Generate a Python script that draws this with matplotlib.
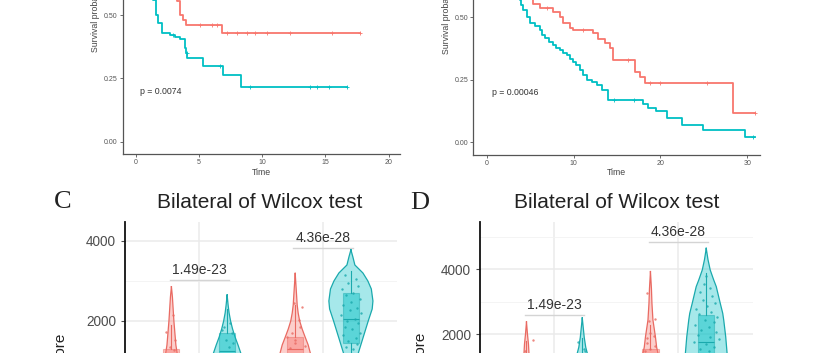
import numpy as np
import matplotlib
matplotlib.use("Agg")
import matplotlib.pyplot as plt

plt.rcParams["font.family"] = ["Liberation Sans", "DejaVu Sans"]

RED = "#F8766D"
TEAL = "#00BFC4"
RED_EDGE = "#E96A62"
TEAL_EDGE = "#1AA9AD"

# ---- Kaplan-Meier, panel A (upper left) ----
km_a_red_t = [0, 0.8, 1.5, 2.2, 2.8, 3.24, 3.5, 3.75, 3.98, 6.8, 17.76]
km_a_red_s = [1.0, 0.93, 0.82, 0.72, 0.62, 0.555, 0.50, 0.48, 0.461, 0.430, 0.430]
km_a_red_cens = [5.1, 6.0, 6.4, 7.2, 8.0, 8.8, 9.45, 10.4, 12.2, 15.5, 17.76]
km_a_teal_t = [0, 0.5, 0.9, 1.1, 1.34, 1.6, 1.79, 2.06, 2.72, 3.1, 3.51, 3.9, 4.0, 4.09,
               5.36, 6.94, 8.34, 16.7]
km_a_teal_s = [1.0, 0.9, 0.8, 0.68, 0.56, 0.50, 0.47, 0.428, 0.42, 0.415, 0.404, 0.37, 0.351,
               0.329, 0.30, 0.263, 0.217, 0.217]
km_a_teal_cens = [2.98, 4.04, 6.67, 9.05, 13.8, 14.3, 15.3, 16.7]
km_a_pval = "p = 0.0074"

# ---- Kaplan-Meier, panel B (upper right) ----
km_b_red_t = [0, 1, 2, 3, 4, 5, 5.37, 6.14, 7.67, 8.43, 8.82, 9.59, 9.97, 12.27, 12.85,
              13.62, 14.19, 14.57, 17.07, 17.64, 18.22, 28.39, 30.88]
km_b_red_s = [1.0, 0.97, 0.92, 0.85, 0.75, 0.62, 0.555, 0.536, 0.52, 0.502, 0.476, 0.456,
              0.449, 0.436, 0.415, 0.396, 0.376, 0.329, 0.283, 0.262, 0.236, 0.116, 0.116]
km_b_red_cens = [6.9, 11.1, 16.3, 18.8, 19.95, 25.3, 30.88]
km_b_teal_t = [0, 1, 2, 3, 3.5, 3.83, 4.0, 4.22, 4.6, 4.99, 5.5, 6.14, 6.4, 6.72, 7.2, 7.67,
               8.0, 8.43, 8.8, 9.2, 9.6, 9.97, 10.3, 10.74, 11.1, 11.5, 12.1, 12.66, 13.24,
               14.0, 18.0, 18.6, 19.5, 20.7, 22.44, 24.93, 29.73, 30.88]
km_b_teal_s = [1.0, 0.98, 0.93, 0.82, 0.68, 0.569, 0.55, 0.529, 0.50, 0.476, 0.465, 0.449,
               0.43, 0.416, 0.40, 0.389, 0.378, 0.369, 0.358, 0.349, 0.335, 0.323, 0.31,
               0.289, 0.27, 0.249, 0.24, 0.229, 0.209, 0.169, 0.155, 0.136, 0.125, 0.096,
               0.069, 0.049, 0.022, 0.022]
km_b_teal_cens = [14.6, 16.9, 30.7]
km_b_pval = "p = 0.00046"

# ---- violin panels: value levels and half widths (category units) ----
c_red1_y = [2858, 2600, 2200, 2000, 1700, 1400, 1200, 1000, 800, 600, 400, 200]
c_red1_w = [0, .008, .016, .020, .028, .036, .046, .064, .096, .12, .096, .04]
c_teal1_y = [2650, 2400, 2200, 2000, 1800, 1600, 1400, 1200, 1000, 800, 600, 400]
c_teal1_w = [0, .008, .016, .028, .044, .064, .088, .11, .118, .113, .08, .032]
c_red2_y = [3190, 2800, 2400, 2200, 2000, 1800, 1600, 1400, 1200, 1000, 800, 600]
c_red2_w = [0, .008, .016, .024, .036, .056, .08, .105, .122, .137, .12, .064]
c_teal2_y = [3780, 3600, 3400, 3200, 3000, 2800, 2500, 2300, 2000, 1800, 1600, 1400, 1200,
             1000, 800]
c_teal2_w = [0, .016, .032, .097, .137, .165, .178, .172, .14, .12, .10, .08, .06, .048, .024]

d_red1_y = [2380, 2000, 1700, 1425, 1200, 1000, 800, 600, 400]
d_red1_w = [0, .008, .016, .02, .032, .056, .08, .08, .04]
d_teal1_y = [2505, 2200, 1900, 1600, 1425, 1200, 1000, 800, 600, 400]
d_teal1_w = [0, .008, .016, .028, .04, .052, .072, .089, .072, .032]
d_red2_y = [3930, 3400, 2954, 2440, 1926, 1600, 1425, 1200, 1000, 800, 600]
d_red2_w = [0, .008, .012, .02, .04, .05, .06, .075, .089, .089, .048]
d_teal2_y = [4645, 4300, 3980, 3674, 3466, 2954, 2646, 2440, 1926, 1425, 1200, 1000, 800, 600]
d_teal2_w = [0, .014, .032, .06, .081, .113, .133, .141, .157, .168, .165, .15, .12, .07]

# jittered observations: values and horizontal jitter (category units)
c_red1_pts = [2150, 1733, 1525, 1275, 1350]
c_red1_jit = [0.01, -0.04, 0.025, 0.02, -0.015]
c_teal1_pts = [1942, 1858, 1692, 1525, 1358, 1450, 1780]
c_teal1_jit = [0.027, -0.027, 0.04, -0.013, 0.013, 0.05, -0.045]
c_red2_pts = [2442, 2358, 2025, 1858, 1692, 1525, 1442, 1317, 1380, 1600]
c_red2_jit = [-0.013, 0.054, 0.027, 0.04, -0.027, 0.0, 0.0, -0.04, 0.08, -0.07]
c_teal2_pts = [3160, 3040, 2960, 2870, 2790, 2710, 2640, 2545, 2470, 2410, 2320, 2275,
               2190, 2140, 2050, 1990, 1940, 1850, 1800, 1710, 1660, 1570, 1510, 1430,
               1340, 1290]
c_teal2_jit = [-0.05, 0.04, -0.02, 0.06, -0.07, 0.02, -0.04, 0.07, 0.0, -0.06, 0.05, -0.01,
               0.08, -0.08, 0.03, -0.03, 0.06, -0.05, 0.01, 0.07, -0.06, 0.04, -0.02, 0.05,
               -0.04, 0.02]
d_red1_pts = [1825, 1500]
d_red1_jit = [0.05, -0.01]
d_teal1_pts = [1772, 1550, 1480]
d_teal1_jit = [-0.035, 0.01, 0.02]
d_red2_pts = [3262, 2460, 2400, 2030, 1950, 1880, 1720, 1650, 1560, 1480]
d_red2_jit = [-0.03, 0.035, -0.01, 0.0, 0.03, -0.03, -0.03, 0.04, 0.0, -0.04]
d_teal2_pts = [3780, 3560, 3420, 3300, 3180, 3050, 2950, 2860, 2780, 2690, 2610, 2530,
               2450, 2380, 2290, 2210, 2140, 2060, 1990, 1910, 1840, 1770, 1700, 1620,
               1560, 1490]
d_teal2_jit = [0.0, -0.02, 0.03, -0.05, 0.05, -0.03, 0.07, 0.01, -0.08, 0.04, -0.06, 0.09,
               -0.01, 0.06, -0.09, 0.02, -0.04, 0.08, -0.07, 0.03, 0.10, -0.10, 0.0, 0.06,
               -0.05, 0.02]

# boxplot summaries: (q1, median, q3, whisker low, whisker high)
c_boxes = [(850, 1100, 1300, 300, 1900), (900, 1250, 1700, 350, 2300),
           (1000, 1300, 1600, 450, 2400), (1450, 2050, 2700, 600, 3250)]
d_boxes = [(700, 950, 1200, 250, 1800), (750, 1050, 1300, 300, 1900),
           (800, 1100, 1550, 300, 2300), (1100, 1750, 2600, 400, 3900)]

pvals_c = ["1.49e-23", "4.36e-28"]
pvals_c_y = [3025, 3833]
pvals_d = ["1.49e-23", "4.36e-28"]
pvals_d_y = [2597, 4850]

fig = plt.figure(figsize=(8.3, 3.53), dpi=100)


def draw_km(ax, curves, xmax, xticks, pval):
    for t, s, cens, col in curves:
        ax.step(t, s, where="post", color=col, lw=1.3)
        idx = np.searchsorted(t, cens, side="right") - 1
        ax.plot(cens, np.array(s)[idx], "+", color=col, ms=3, mew=0.6)
    ax.text(pval[0], 0.2, pval[1], fontsize=6.3, va="center", color="#333333")
    ax.set_xticks(xticks)
    ax.set_yticks([0, 0.25, 0.5, 0.75, 1.0])
    ax.set_yticklabels(["0.00", "0.25", "0.50", "0.75", "1.00"])
    ax.set_xlim(-0.05 * xmax, xmax * 1.05)
    ax.set_ylim(-0.05, 1.05)
    for side in ["top", "right"]:
        ax.spines[side].set_visible(False)
    for side in ["left", "bottom"]:
        ax.spines[side].set_color("#555555")
        ax.spines[side].set_linewidth(0.9)
    ax.tick_params(labelsize=5, colors="#555555", length=2, width=0.6, pad=1.5)
    ax.set_xlabel("Time", fontsize=6.3, color="#444444", labelpad=1)
    ax.set_ylabel("Survival probability", fontsize=6.3, color="#444444", labelpad=3)


ax_a = fig.add_axes([0.1478, 0.5626, 0.3342, 0.7894])
draw_km(ax_a, [(km_a_red_t, km_a_red_s, km_a_red_cens, RED),
               (km_a_teal_t, km_a_teal_s, km_a_teal_cens, TEAL)],
        20, [0, 5, 10, 15, 20], (0.35, km_a_pval))
ax_a.set_xlim(-1.03, 20.9)

ax_b = fig.add_axes([0.5703, 0.5615, 0.3454, 0.779])
draw_km(ax_b, [(km_b_red_t, km_b_red_s, km_b_red_cens, RED),
               (km_b_teal_t, km_b_teal_s, km_b_teal_cens, TEAL)],
        30.8, [0, 10, 20, 30], (0.58, km_b_pval))
ax_b.set_xlim(-1.54, 31.46)


def violin(ax, pos, ys, ws, fill, edge):
    ys = np.array(ys)
    ws = np.array(ws)
    xs = np.concatenate([pos - ws, (pos + ws)[::-1]])
    yy = np.concatenate([ys, ys[::-1]])
    ax.fill(xs, yy, facecolor=fill, alpha=0.35, edgecolor="none", zorder=2)
    ax.plot(xs, yy, color=edge, lw=0.9, zorder=3)


def draw_violin_panel(ax, groups, boxes, pts, pv, pv_y, ymax, ymin):
    offs = [-0.225, 0.225, -0.225, 0.225]
    cats = [1, 1, 2, 2]
    cols = [(RED, RED_EDGE), (TEAL, TEAL_EDGE)] * 2
    for i, (ys, ws) in enumerate(groups):
        pos = cats[i] + offs[i]
        violin(ax, pos, ys, ws, cols[i][0], cols[i][1])
        q1, med, q3, lo, hi = boxes[i]
        bp = ax.bxp([{"q1": q1, "med": med, "q3": q3, "whislo": lo, "whishi": hi,
                      "fliers": []}], positions=[pos], widths=0.13, patch_artist=True,
                    showfliers=False, manage_ticks=False, zorder=4)
        for b in bp["boxes"]:
            b.set_facecolor(cols[i][0])
            b.set_alpha(0.45)
            b.set_edgecolor(cols[i][1])
            b.set_linewidth(0.8)
        for key in ["whiskers", "caps", "medians"]:
            for ln in bp[key]:
                ln.set_color(cols[i][1])
                ln.set_linewidth(0.8)
        for c in bp["caps"]:
            c.set_visible(False)
        vals, jit = pts[i]
        ax.scatter(pos + np.array(jit), vals, s=3, color=cols[i][1], alpha=0.8,
                   linewidths=0, zorder=5)
    for k, cat in enumerate([1, 2]):
        ax.plot([cat - 0.24, cat + 0.24], [pv_y[k], pv_y[k]], color="#D4D4D4", lw=1,
                zorder=1)
        ax.annotate(pv[k], (cat, pv_y[k]), xytext=(0, 2), textcoords="offset points",
                    ha="center", va="bottom", fontsize=10, color="#333333")
    ax.set_xticks([1, 2])
    ax.set_yticks([0, 2000, 4000])
    ax.set_yticks([1000, 3000, 5000], minor=True)
    ax.set_xlim(0.4, 2.6)
    ax.set_ylim(ymin, ymax)
    ax.grid(True, which="major", color="#EBEBEB", lw=1.1, zorder=0)
    ax.grid(True, which="minor", axis="y", color="#F2F2F2", lw=0.6, zorder=0)
    ax.set_axisbelow(True)
    for side in ["top", "right", "bottom"]:
        ax.spines[side].set_visible(False)
    ax.spines["left"].set_linewidth(1.3)
    ax.spines["left"].set_color("#111111")
    ax.tick_params(axis="y", which="major", labelsize=9.8, colors="#4D4D4D", length=3,
                   width=0.8)
    ax.tick_params(axis="y", which="minor", length=0)
    ax.tick_params(axis="x", length=0, labelbottom=False)


ax_c = fig.add_axes([0.1506, -0.1586, 0.3281, 0.5306])
draw_violin_panel(ax_c,
                  [(c_red1_y, c_red1_w), (c_teal1_y, c_teal1_w),
                   (c_red2_y, c_red2_w), (c_teal2_y, c_teal2_w)],
                  c_boxes,
                  [(c_red1_pts, c_red1_jit), (c_teal1_pts, c_teal1_jit),
                   (c_red2_pts, c_red2_jit), (c_teal2_pts, c_teal2_jit)],
                  pvals_c, pvals_c_y, 4482, -200)

ax_d = fig.add_axes([0.5783, -0.1541, 0.3286, 0.5261])
draw_violin_panel(ax_d,
                  [(d_red1_y, d_red1_w), (d_teal1_y, d_teal1_w),
                   (d_red2_y, d_red2_w), (d_teal2_y, d_teal2_w)],
                  d_boxes,
                  [(d_red1_pts, d_red1_jit), (d_teal1_pts, d_teal1_jit),
                   (d_red2_pts, d_red2_jit), (d_teal2_pts, d_teal2_jit)],
                  pvals_d, pvals_d_y, 5465, -250)

# panel letters, titles, y labels
fig.text(0.0759, 0.4278, "C", fontsize=19, family="Liberation Serif", ha="center",
         va="center", color="#222222")
fig.text(0.506, 0.425, "D", fontsize=19, family="Liberation Serif", ha="center",
         va="center", color="#222222")
fig.text(0.3133, 0.4258, "Bilateral of Wilcox test", fontsize=15, ha="center",
         va="center", color="#222222")
fig.text(0.743, 0.4258, "Bilateral of Wilcox test", fontsize=15, ha="center",
         va="center", color="#222222")
fig.text(0.0723, 0.0567, "riskScore", fontsize=11, rotation=90, ha="center", va="top",
         color="#222222")
fig.text(0.506, 0.0603, "riskScore", fontsize=11, rotation=90, ha="center", va="top",
         color="#222222")

fig.savefig("out.png", dpi=100)
